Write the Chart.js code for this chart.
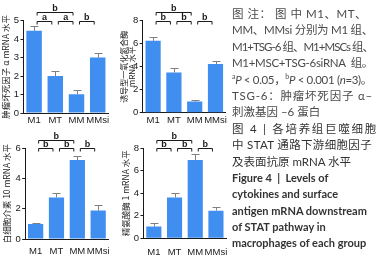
<!DOCTYPE html>
<html>
<head>
<meta charset="utf-8">
<script src="https://cdn.jsdelivr.net/npm/chart.js@4"></script>
<style>
  html, body { margin: 0; padding: 0; background: #fff; }
  body { width: 377px; height: 259px; position: relative; overflow: hidden; }
  .box { position: absolute; }
  #note {
    position: absolute; left: 232px; top: 6px; width: 145px; overflow: hidden;
    font-family: Lato, "Noto Sans CJK SC", sans-serif; font-size: 11.5px; line-height: 16.4px;
    color: #4a4a4a;
  }
  #note div { white-space: nowrap; height: 16.4px; }
  #note .d { color: #333; }
  #note .en { font-weight: bold; color: #333; font-size: 11px; }
</style>
</head>
<body>
<div class="box" style="left:0;top:0"><canvas id="tnf" width="120" height="125"></canvas></div>
<div class="box" style="left:120px;top:0"><canvas id="inos" width="118" height="125"></canvas></div>
<div class="box" style="left:0;top:125px"><canvas id="il10" width="120" height="134"></canvas></div>
<div class="box" style="left:120px;top:125px"><canvas id="arg1" width="118" height="134"></canvas></div>

<div id="note">
  <div class="j" data-w="135">图 注： 图 中 M1、MT、</div>
  <div class="j" data-w="141">MM、MMsi 分别为 M1 组、</div>
  <div class="j" data-w="141">M1+TSG-6 组、M1+MSCs 组、</div>
  <div class="j" data-w="141">M1+MSC+TSG-6siRNA&nbsp;&nbsp;组。</div>
  <div class="j" data-w="140"><sup style="font-size:7px;line-height:0">a</sup><i>P</i> &lt; 0.05，<sup style="font-size:7px;line-height:0">b</sup><i>P</i> &lt; 0.001 (<i>n</i>=3)。</div>
  <div class="j" data-w="141">TSG-6：肿瘤坏死因子 α–</div>
  <div>刺激基因 –6 蛋白</div>
  <div class="j d" data-w="146">图 4 | 各培养组巨噬细胞</div>
  <div class="j d" data-w="140">中 STAT 通路下游细胞因子</div>
  <div class="d">及表面抗原 mRNA 水平</div>
  <div class="en">Figure 4&nbsp;&nbsp;|&nbsp;&nbsp;Levels of</div>
  <div class="en">cytokines and surface</div>
  <div class="en">antigen mRNA downstream</div>
  <div class="en">of STAT pathway in</div>
  <div class="en">macrophages of each group</div>
</div>

<script>
// Data
const groups = ["M1", "MT", "MM", "MMsi"];

const tnfMean = [4.45, 2.0, 1.02, 3.0];
const tnfErr = [0.25, 0.27, 0.24, 0.27];
const tnfMarks = [[0, 2, "b", 1], [0, 1, "a", 0], [1, 2, "a", 0], [2, 3, "b", 0]];

const inosMean = [6.25, 3.5, 0.97, 4.23];
const inosErr = [0.3, 0.36, 0.14, 0.24];
const inosMarks = [[0, 2, "b", 1], [0, 1, "b", 0], [1, 2, "b", 0], [2, 3, "b", 0]];

const il10Mean = [0.99, 2.75, 5.22, 1.88];
const il10Err = [0.1, 0.27, 0.28, 0.37];
const il10Marks = [[0, 2, "b", 1], [0, 1, "b", 0], [1, 2, "b", 0], [2, 3, "b", 0]];

const arg1Mean = [1.04, 3.63, 6.95, 2.46];
const arg1Err = [0.35, 0.36, 0.53, 0.35];
const arg1Marks = [[0, 2, "b", 1], [0, 1, "b", 0], [1, 2, "b", 0], [2, 3, "b", 0]];

const BAR = "#3f8ef0";
const INK = "#1a1a1a";
const AXIS_FONT = { family: "'Liberation Sans Narrow', 'Liberation Sans', Arial, sans-serif", size: 9.5 };

// stretch note lines to the column width (justified look)
document.querySelectorAll("#note .j").forEach((el) => {
  el.innerHTML = "<span>" + el.innerHTML + "</span>";
  const w = el.firstChild.getBoundingClientRect().width;
  const n = el.textContent.length;
  el.style.letterSpacing = ((+el.dataset.w - w) / n).toFixed(2) + "px";
});

// error bars + significance brackets
const errorPlugin = {
  id: "errorMarks",
  afterDatasetsDraw(chart, args, opts) {
    const { ctx, chartArea } = chart;
    const y = chart.scales.y;
    const meta = chart.getDatasetMeta(0);
    const vals = chart.data.datasets[0].data;
    ctx.save();
    ctx.lineWidth = 1;
    ctx.strokeStyle = "#808080";
    opts.errors.forEach((e, i) => {
      const px = Math.round(meta.data[i].x) + 0.5;
      const y0 = y.getPixelForValue(vals[i]);
      const y1 = Math.round(y.getPixelForValue(vals[i] + e)) + 0.5;
      ctx.beginPath();
      ctx.moveTo(px, y0);
      ctx.lineTo(px, y1);
      ctx.moveTo(px - 4, y1);
      ctx.lineTo(px + 4, y1);
      ctx.stroke();
    });
    ctx.strokeStyle = INK;
    ctx.fillStyle = INK;
    ctx.font = "bold 9px 'Liberation Sans', Arial, sans-serif";
    ctx.textAlign = "center";
    ctx.textBaseline = "alphabetic";
    opts.marks.forEach(([a, b, txt, lvl]) => {
      const xa = meta.data[a].x + 3;
      const xb = meta.data[b].x - 3.5;
      const ly = Math.round(chartArea.top - lvl * 8.5) + 0.5;
      ctx.beginPath();
      ctx.moveTo(xa, ly + 3);
      ctx.lineTo(xa, ly);
      ctx.lineTo(xb, ly);
      ctx.lineTo(xb, ly + 3);
      ctx.stroke();
      ctx.fillText(txt, (xa + xb) / 2, ly - 2);
    });
    ctx.restore();
  },
};

function makeChart(id, values, errors, marks, yMax, step, title, lay) {
  return new Chart(document.getElementById(id), {
    type: "bar",
    data: {
      labels: groups,
      datasets: [{
        data: values,
        backgroundColor: BAR,
        borderWidth: 0,
        barPercentage: 0.73,
        categoryPercentage: 1,
      }],
    },
    plugins: [errorPlugin],
    options: {
      responsive: false,
      animation: false,
      devicePixelRatio: 1,
      layout: { padding: { left: 0, top: lay.top, right: lay.right, bottom: 0 } },
      plugins: {
        legend: { display: false },
        tooltip: { enabled: false },
        errorMarks: { errors: errors, marks: marks },
      },
      scales: {
        x: {
          offset: true,
          grid: { display: false, drawTicks: false, tickLength: 0 },
          border: { display: true, color: INK, width: 1 },
          ticks: { color: INK, font: AXIS_FONT, padding: lay.xpad, maxRotation: 0, autoSkip: false },
          afterFit: (s) => { s.height = lay.xh; },
        },
        y: {
          min: 0,
          max: yMax,
          ticks: { stepSize: step, color: INK, font: AXIS_FONT, padding: 1.5 },
          grid: { display: true, drawOnChartArea: false, drawTicks: true, tickLength: 3, color: INK },
          border: { display: true, color: INK, width: 1 },
          title: {
            display: true,
            text: title,
            color: INK,
            font: { family: "'Noto Sans CJK SC', sans-serif", size: lay.tsize, lineHeight: 1 },
            padding: { top: lay.tpad, bottom: 0 },
          },
          afterFit: (s) => { s.width = lay.left; },
        },
      },
    },
  });
}

makeChart("tnf", tnfMean, tnfErr, tnfMarks, 5, 1, "肿瘤坏死因子 α mRNA 水平",
  { left: 23.5, top: 20.7, right: 11.7, xh: 12, xpad: 1.5, tsize: 8.5, tpad: 1.5 });
makeChart("inos", inosMean, inosErr, inosMarks, 8, 2, ["诱导型一氧化氮合酶", "mRNA 水平"],
  { left: 22.7, top: 20.7, right: 12.1, xh: 12.3, xpad: 1.5, tsize: 8, tpad: 0 });
makeChart("il10", il10Mean, il10Err, il10Marks, 6, 2, "白细胞介素 10 mRNA 水平",
  { left: 25.2, top: 23.3, right: 11.4, xh: 20, xpad: 7, tsize: 8.5, tpad: 2.3 });
makeChart("arg1", arg1Mean, arg1Err, arg1Marks, 8, 2, "精氨酸酶 1 mRNA 水平",
  { left: 23.5, top: 23.3, right: 11.7, xh: 20.7, xpad: 8.5, tsize: 8.5, tpad: 1.5 });
</script>
</body>
</html>
